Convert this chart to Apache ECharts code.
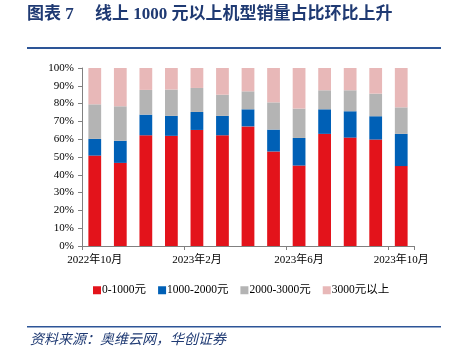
<!DOCTYPE html>
<html>
<head>
<meta charset="utf-8">
<script src="https://cdn.jsdelivr.net/npm/echarts@6/dist/echarts.min.js"></script>
<style>
  html, body { margin: 0; padding: 0; background: #fff; }
  #chart { width: 454px; height: 351px; }
</style>
</head>
<body>
<div id="chart"></div>
<script>
// months, Oct 2022 - Oct 2023
const months = ['2022年10月', '2022年11月', '2022年12月', '2023年1月', '2023年2月', '2023年3月', '2023年4月',
  '2023年5月', '2023年6月', '2023年7月', '2023年8月', '2023年9月', '2023年10月'];
const seriesNames = ['0-1000元', '1000-2000元', '2000-3000元', '3000元以上'];
// shares in %
const share0to1k = [50.8, 46.7, 62.2, 61.9, 65.2, 62.2, 67.2, 53.1, 45.2, 63.0, 60.9, 59.8, 44.9];
const share1kto2k = [9.4, 12.4, 11.6, 11.2, 10.1, 10.9, 9.6, 12.3, 15.5, 13.8, 14.8, 13.1, 18.1];
const share2kto3k = [19.4, 19.4, 13.9, 14.8, 13.5, 11.9, 10.1, 15.3, 16.5, 10.7, 11.8, 12.7, 14.9];
const share3kPlus = [20.4, 21.5, 12.3, 12.1, 11.2, 15.0, 13.1, 19.3, 22.8, 12.5, 12.5, 14.4, 22.1];

const colors = ['#E3131B', '#0060B6', '#B4B4B4', '#E8B8B8'];
const serif = '"Liberation Serif", "Noto Sans CJK SC", serif';

const chart = echarts.init(document.getElementById('chart'), null, { renderer: 'canvas' });

const allData = [share0to1k, share1kto2k, share2kto3k, share3kPlus];

const option = {
  animation: false,
  color: colors,
  grid: { left: 82, right: 40, top: 68, bottom: 105, containLabel: false },
  graphic: [
    { type: 'text', left: 27, top: 6,
      style: { text: '图表 7', fill: '#1F3A73',
        font: 'bold 17px "Liberation Serif", "Noto Sans CJK SC", serif' } },
    { type: 'text', left: 95, top: 6,
      style: { text: '线上 1000 元以上机型销量占比环比上升', fill: '#1F3A73',
        font: 'bold 17px "Liberation Serif", "Noto Sans CJK SC", serif' } },
    { type: 'rect', shape: { x: 27, y: 47, width: 414, height: 2 }, style: { fill: '#2D5597' } },
    { type: 'rect', shape: { x: 27, y: 326, width: 414, height: 1.5 }, style: { fill: '#2D5597' } },
    { type: 'text', left: 30, top: 332,
      style: { text: '资料来源：奥维云网，华创证券', fill: '#1F3A73',
        font: 'italic 14px "Noto Sans CJK SC", serif' } }
  ],
  legend: {
    bottom: 50,
    left: 88,
    itemWidth: 8,
    itemHeight: 8,
    itemGap: 12,
    icon: 'rect',
    textStyle: { fontFamily: serif, fontSize: 11.5, color: '#000', padding: [0, 0, 0, -4] },
    data: seriesNames
  },
  xAxis: {
    type: 'category',
    data: months,
    axisLine: { lineStyle: { color: '#808080', width: 1 } },
    axisTick: { show: true, interval: 3, length: 4, lineStyle: { color: '#808080' } },
    axisLabel: { interval: 3, fontFamily: serif, fontSize: 11, color: '#000', margin: 9 }
  },
  yAxis: {
    type: 'value',
    min: 0,
    max: 100,
    interval: 10,
    axisLine: { show: true, lineStyle: { color: '#808080' } },
    axisTick: { show: true, length: 4, lineStyle: { color: '#808080' } },
    splitLine: { show: false },
    axisLabel: { formatter: '{value}%', fontFamily: serif, fontSize: 11, color: '#000', margin: 8 }
  },
  series: seriesNames.map((name, i) => ({
    name: name,
    type: 'bar',
    stack: 'total',
    barWidth: '50%',
    data: allData[i],
    itemStyle: { color: colors[i] }
  }))
};

chart.setOption(option);
</script>
</body>
</html>
